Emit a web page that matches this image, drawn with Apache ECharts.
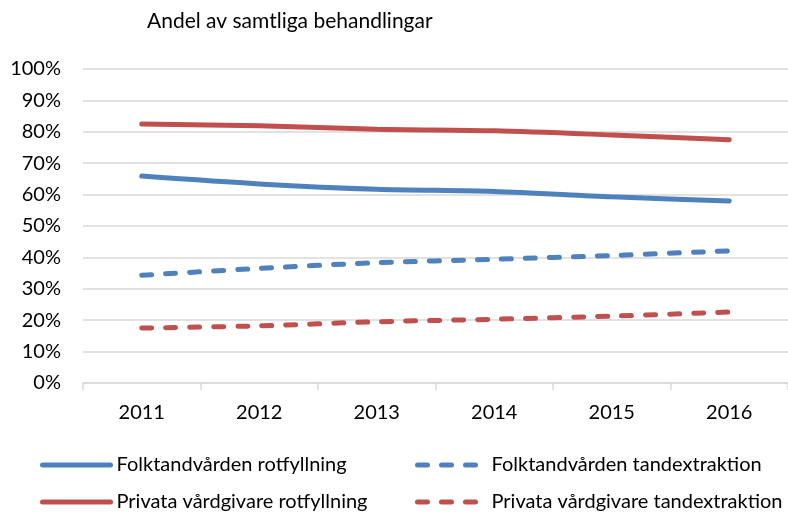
<!DOCTYPE html>
<html>
<head>
<meta charset="utf-8">
<script src="https://cdn.jsdelivr.net/npm/echarts@6/dist/echarts.min.js"></script>
<style>
  html, body { margin: 0; padding: 0; background: #fff; }
  #chart { width: 788px; height: 513px; }
</style>
</head>
<body>
<div id="chart"></div>
<script>
// Years on the category axis
const years = ['2011', '2012', '2013', '2014', '2015', '2016'];

// Share of all treatments, percent
const folkRotfyllning = [65.9, 63.4, 61.7, 61.0, 59.3, 58.0];
const folkTandextraktion = [34.3, 36.5, 38.3, 39.4, 40.6, 42.1];
const privRotfyllning = [82.5, 81.9, 80.8, 80.3, 79.0, 77.5];
const privTandextraktion = [17.5, 18.2, 19.5, 20.3, 21.3, 22.6];

const seriesNames = [
  'Folktandvården rotfyllning',
  'Folktandvården tandextraktion',
  'Privata vårdgivare rotfyllning',
  'Privata vårdgivare tandextraktion'
];

const BLUE = '#4F81BD';
const RED = '#C0504D';
const FONT = "Lato, 'Liberation Sans', sans-serif";
const DASH = [10, 14];

function lineSeries(name, data, color, dashed) {
  return {
    name: name,
    type: 'line',
    data: data,
    smooth: 0.3,
    symbol: 'none',
    lineStyle: {
      color: color,
      width: 5,
      type: dashed ? DASH : 'solid',
      cap: 'round'
    },
    itemStyle: { color: color }
  };
}

function legendAt(name, left, top) {
  return {
    data: [name],
    left: left,
    top: top,
    itemWidth: 68,
    itemHeight: 14,
    itemGap: 0,
    padding: 0,
    itemStyle: { opacity: 0 },
    lineStyle: { width: 5, cap: 'round' },
    textStyle: { fontFamily: FONT, fontSize: 20, color: '#000', padding: [0, 0, 0, 1] }
  };
}

const chart = echarts.init(document.getElementById('chart'), null, { renderer: 'canvas' });
chart.setOption({
  animation: false,
  backgroundColor: '#fff',
  title: {
    text: 'Andel av samtliga behandlingar',
    left: 142,
    top: 6,
    textStyle: { fontFamily: FONT, fontSize: 21, fontWeight: 'normal', color: '#000' }
  },
  grid: { left: 83, right: 0, top: 69, bottom: 130 },
  legend: [
    legendAt(seriesNames[0], 40, 455),
    legendAt(seriesNames[1], 415, 455),
    legendAt(seriesNames[2], 40, 492),
    legendAt(seriesNames[3], 415, 492)
  ],
  xAxis: {
    type: 'category',
    data: years,
    boundaryGap: true,
    axisLine: { lineStyle: { color: '#D9D9D9', width: 1.5 } },
    axisTick: { show: true, length: 7, lineStyle: { color: '#D9D9D9', width: 1.5 } },
    axisLabel: { fontFamily: FONT, fontSize: 20, color: '#000', margin: 20 }
  },
  yAxis: {
    type: 'value',
    min: 0,
    max: 100,
    interval: 10,
    axisLine: { show: false },
    axisTick: { show: false },
    splitLine: { lineStyle: { color: '#D9D9D9', width: 1.5 } },
    axisLabel: {
      fontFamily: FONT, fontSize: 20, color: '#000', margin: 22,
      formatter: v => v + '%'
    }
  },
  series: [
    lineSeries(seriesNames[0], folkRotfyllning, BLUE, false),
    lineSeries(seriesNames[1], folkTandextraktion, BLUE, true),
    lineSeries(seriesNames[2], privRotfyllning, RED, false),
    lineSeries(seriesNames[3], privTandextraktion, RED, true)
  ]
});
</script>
</body>
</html>
